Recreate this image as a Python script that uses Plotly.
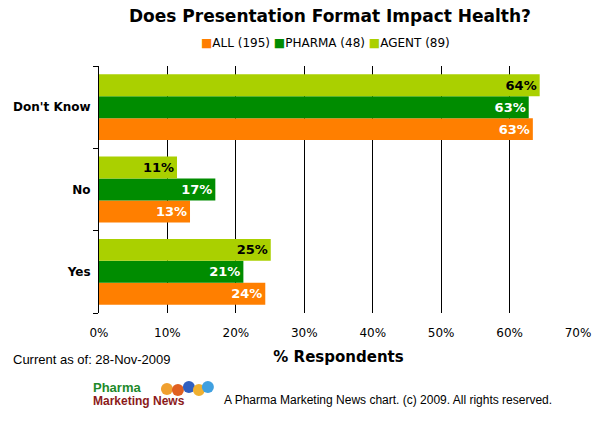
import plotly.graph_objects as go

# ---- data ----
categories = ["Yes", "No", "Don't Know"]
series_names = ["ALL (195)", "PHARMA (48)", "AGENT (89)"]
all_vals = [24.3, 13.3, 63.4]
pharma_vals = [21.1, 17.0, 62.8]
agent_vals = [25.1, 11.4, 64.4]
x_ticks = [0, 10, 20, 30, 40, 50, 60, 70]

colors = ["#FF7F00", "#008C00", "#AAD000"]
label_colors = ["white", "white", "black"]

W, H = 609, 425
L, R, T, B = 99, 578.5, 66, 313

def px(xp):
    return (xp - L) / (R - L)

def py(yp):
    return (B - yp) / (B - T)

FONT = "Verdana, DejaVu Sans, sans-serif"
ARIAL = "Liberation Sans, Arial, sans-serif"

fig = go.Figure()
for name, vals, c, lc in zip(series_names, [all_vals, pharma_vals, agent_vals], colors, label_colors):
    fig.add_trace(go.Bar(
        y=categories, x=vals, name=name, orientation="h",
        marker=dict(color=c, line=dict(width=0)),
        texttemplate="<b>%{x:.0f}%</b>", textposition="inside",
        insidetextanchor="end", textangle=0,
        textfont=dict(family=FONT, size=13, color=lc),
        hoverinfo="skip", showlegend=False,
    ))

fig.update_layout(
    width=W, height=H,
    margin=dict(l=L, r=W - R, t=T, b=H - B, pad=0, autoexpand=False),
    paper_bgcolor="white", plot_bgcolor="white",
    barmode="group", bargap=0.2, bargroupgap=0,
    showlegend=False,
    font=dict(family=FONT, color="black"),
)

fig.update_xaxes(
    range=[0, 70], tickvals=x_ticks, ticktext=[f"{v}%" for v in x_ticks],
    showgrid=True, gridcolor="black", gridwidth=1, zeroline=False, showline=False,
    ticks="", tickfont=dict(family=FONT, size=12, color="black"),
    ticklabelstandoff=11,
    title=dict(text="<b>% Respondents</b>", font=dict(family=FONT, size=15, color="black"), standoff=12),
    fixedrange=True, automargin=False,
)
fig.update_yaxes(
    categoryorder="array", categoryarray=categories,
    showline=True, linecolor="black", linewidth=1, mirror=False,
    ticks="outside", ticklen=5, tickcolor="black", tickson="boundaries",
    showgrid=False, ticklabelstandoff=5,
    tickfont=dict(family=FONT, size=12, color="black"),
    tickvals=categories, ticktext=[f"<b>{c}</b>" for c in categories],
    fixedrange=True, automargin=False,
)

legend_text = " ".join(
    f"<span style='color:{c}'>■</span>{n}" for n, c in zip(series_names, colors)
)

annotations = [
    dict(text="<b>Does Presentation Format Impact Health?</b>", x=px(330), y=py(16),
         xanchor="center", yanchor="middle", showarrow=False,
         font=dict(family=FONT, size=17, color="black")),
    dict(text=legend_text, x=px(326), y=py(43),
         xanchor="center", yanchor="middle", showarrow=False,
         font=dict(family=FONT, size=12, color="black")),
    dict(text="Current as of: 28-Nov-2009", x=px(11), y=py(359),
         xanchor="left", yanchor="middle", showarrow=False,
         font=dict(family=ARIAL, size=13, color="black")),
    dict(text="A Pharma Marketing News chart. (c) 2009. All rights reserved.", x=px(222), y=py(400),
         xanchor="left", yanchor="middle", showarrow=False,
         font=dict(family=ARIAL, size=12, color="black")),
    dict(text="<b>Pharma</b>", x=px(91), y=py(387),
         xanchor="left", yanchor="middle", showarrow=False,
         font=dict(family=ARIAL, size=13, color="#1E8A2A")),
    dict(text="<b>Marketing News</b>", x=px(91), y=py(401),
         xanchor="left", yanchor="middle", showarrow=False,
         font=dict(family=ARIAL, size=12, color="#8B1A1A")),
]
for a in annotations:
    a["xref"] = "paper"
    a["yref"] = "paper"
fig.update_layout(annotations=annotations)

balls = [(167, 389, "#F0A030"), (178, 390, "#E06020"), (189, 387, "#3060C0"), (199, 390, "#F0B030"), (208, 387, "#40A0E0")]
shapes = []
for bx, by, bc in balls:
    r = 6
    shapes.append(dict(type="circle", xref="paper", yref="paper",
                       x0=px(bx - r), x1=px(bx + r), y0=py(by + r), y1=py(by - r),
                       fillcolor=bc, line=dict(width=0), layer="above"))
fig.update_layout(shapes=shapes)

fig.write_html("out.html", config={"displayModeBar": False},
               post_script="document.body.style.margin='0';")
